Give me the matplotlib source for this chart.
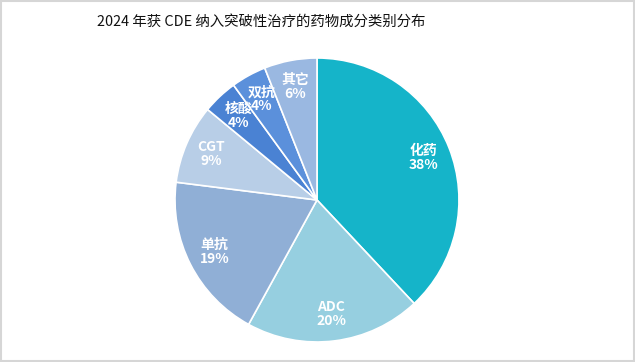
import matplotlib
matplotlib.use("Agg")
import matplotlib.pyplot as plt
from matplotlib.patches import Rectangle

plt.rcParams['font.family'] = ['Noto Sans CJK SC', 'DejaVu Sans']

categories = ["化药", "ADC", "单抗", "CGT", "核酸", "双抗", "其它"]
shares = [38, 20, 19, 9, 4, 4, 6]
colors = ["#15b4c9", "#96cfe0", "#90afd6", "#b8cee7", "#4a82d3", "#5b90db", "#9ab8e1"]


def main():
    fig = plt.figure(figsize=(6.35, 3.62), dpi=100)
    fig.patch.set_facecolor("white")

    # light grey frame round the whole picture
    fig.patches.append(Rectangle((0.002, 0.003), 0.996, 0.994, transform=fig.transFigure,
                                 fill=False, edgecolor="#d6d6d6", linewidth=1.5))

    ax = fig.add_axes([0.2756, 0.0553, 0.4472, 0.7845])

    labels_iter = iter(categories)

    def fmt(p):
        return f"{next(labels_iter)}\n{p:.0f}%"

    wedges, texts, autotexts = ax.pie(
        shares,
        colors=colors,
        startangle=90,
        counterclock=False,
        autopct=fmt,
        pctdistance=0.81,
        wedgeprops=dict(edgecolor="white", linewidth=1.2),
        textprops=dict(color="white", fontsize=10, fontweight="bold", linespacing=1.0),
    )
    ax.set_xlim(-1, 1)
    ax.set_ylim(-1, 1)
    ax.set_aspect("equal")

    fig.text(0.411, 0.939, "2024 年获 CDE 纳入突破性治疗的药物成分类别分布",
             ha="center", va="center", fontsize=10.4, color="#111111")

    fig.savefig("out.png", dpi=100)


if __name__ == "__main__":
    main()
